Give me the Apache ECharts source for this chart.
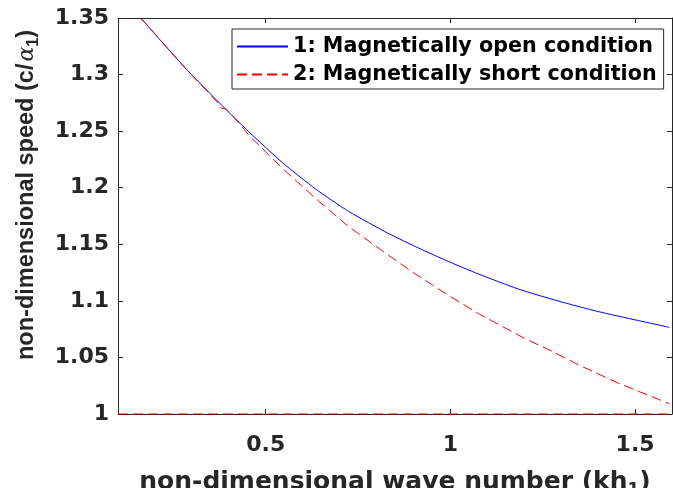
<!DOCTYPE html>
<html>
<head>
<meta charset="utf-8">
<script src="https://cdn.jsdelivr.net/npm/echarts@6/dist/echarts.min.js"></script>
<style>
  html, body { margin: 0; padding: 0; background: #fff; }
  #chart { width: 673px; height: 488px; }
</style>
</head>
<body>
<div id="chart"></div>
<script>
// Dispersion of the non-dimensional phase speed against wave number
const seriesNames = ['1: Magnetically open condition', '2: Magnetically short condition'];

const openX = [0.1616, 0.2795, 0.3775, 0.4549, 0.5448, 0.6349, 0.7248, 0.8327, 0.9137, 0.9946, 1.0756, 1.1835, 1.2914, 1.3994, 1.5073, 1.5928];
const openY = [1.3500, 1.3067, 1.2740, 1.2492, 1.2223, 1.1989, 1.1790, 1.1595, 1.1467, 1.1348, 1.1238, 1.1105, 1.0999, 1.0906, 1.0827, 1.0766];

const shortX = [0.1616, 0.2795, 0.3732, 0.3775, 0.3910, 0.4045, 0.4549, 0.5448, 0.6349, 0.7248, 0.8238, 0.8956, 0.9857, 1.0756, 1.2016, 1.2733, 1.3454, 1.4533, 1.5928];
const shortY = [1.3500, 1.3067, 1.2740, 1.2705, 1.2698, 1.2660, 1.2461, 1.2172, 1.1906, 1.1655, 1.1423, 1.1258, 1.1067, 1.0888, 1.0667, 1.0557, 1.0437, 1.0274, 1.0091];

// lower branch of the short-circuit curve, lying on c/alpha_1 = 1
const floorX = [0.1, 1.6];
const floorY = [1, 1];

const xTicks = [0.5, 1, 1.5];

const pairs = (xs, ys) => xs.map((x, i) => [x, ys[i]]);

const ink = '#262626';
const tickFont = { fontFamily: 'DejaVu Sans', fontWeight: 'bold', fontSize: 22, color: ink };

const chart = echarts.init(document.getElementById('chart'), null, { renderer: 'canvas' });

chart.setOption({
  animation: false,
  backgroundColor: '#fff',
  grid: { left: 118, right: 1, top: 18, bottom: 74, containLabel: false, outerBoundsMode: 'none' },
  xAxis: [
    {
      type: 'value', min: 0.1, max: 1.6, position: 'bottom',
      axisLine: { lineStyle: { color: ink, width: 1 } },
      axisTick: { inside: true, length: 5, customValues: xTicks, lineStyle: { color: ink } },
      axisLabel: { customValues: xTicks, margin: 20, ...tickFont, formatter: v => String(v) },
      splitLine: { show: false },
      name: 'non-dimensional wave number (kh{s|1})',
      nameLocation: 'middle',
      nameGap: 51,
      nameTextStyle: {
        fontFamily: 'DejaVu Sans', fontWeight: 'bold', fontSize: 25, color: ink, lineHeight: 34,
        rich: {
          s: { fontFamily: 'DejaVu Sans', fontWeight: 'bold', fontSize: 17, color: ink, lineHeight: 12, verticalAlign: 'bottom' }
        }
      }
    },
    {
      type: 'value', min: 0.1, max: 1.6, position: 'top',
      axisLine: { lineStyle: { color: ink, width: 1 } },
      axisTick: { inside: true, length: 5, customValues: xTicks, lineStyle: { color: ink } },
      axisLabel: { show: false },
      splitLine: { show: false }
    }
  ],
  yAxis: [
    {
      type: 'value', min: 1, max: 1.35, interval: 0.05, position: 'left',
      axisLine: { show: true, lineStyle: { color: ink, width: 1 } },
      axisTick: { show: true, inside: true, length: 5, lineStyle: { color: ink } },
      axisLabel: { margin: 9, ...tickFont, formatter: v => String(+v.toFixed(2)) },
      splitLine: { show: false }
    },
    {
      type: 'value', min: 1, max: 1.35, interval: 0.05, position: 'right',
      axisLine: { show: true, lineStyle: { color: ink, width: 1 } },
      axisTick: { show: true, inside: true, length: 5, lineStyle: { color: ink } },
      axisLabel: { show: false },
      splitLine: { show: false }
    }
  ],
  legend: {
    orient: 'vertical',
    left: 232, top: 29,
    padding: [7, 7, 4, 4],
    itemGap: 7,
    itemWidth: 51, itemHeight: 14,
    itemStyle: { opacity: 0 },
    borderColor: ink, borderWidth: 1,
    backgroundColor: '#fff',
    data: seriesNames,
    textStyle: { fontFamily: 'DejaVu Sans', fontWeight: 'bold', fontSize: 20.7, color: '#000', lineHeight: 20 }
  },
  graphic: [
    {
      type: 'text',
      x: 27, y: 195,
      rotation: Math.PI / 2,
      style: {
        text: '{t|non-dimensional speed (c/}{a|α}{s|1}{t|)}',
        align: 'center', verticalAlign: 'middle',
        rich: {
          t: { fontFamily: 'Liberation Sans', fontWeight: 'bold', fontSize: 23.5, fill: ink, lineHeight: 30 },
          a: { fontFamily: 'DejaVu Serif', fontStyle: 'italic', fontSize: 22, fill: ink, lineHeight: 30, padding: [0, 0, 0, 2] },
          s: { fontFamily: 'Liberation Sans', fontWeight: 'bold', fontSize: 16, fill: ink, lineHeight: 12, verticalAlign: 'bottom' }
        }
      }
    }
  ],
  series: [
    {
      name: seriesNames[0], type: 'line', symbol: 'none', smooth: 0.2,
      data: pairs(openX, openY),
      lineStyle: { color: '#0000ff', width: 1 },
      itemStyle: { color: '#0000ff' },
      z: 3
    },
    {
      name: seriesNames[1], type: 'line', symbol: 'none',
      data: pairs(shortX, shortY),
      lineStyle: { color: '#ff0000', width: 1, type: [10, 5] },
      itemStyle: { color: '#ff0000' },
      z: 4
    },
    {
      name: seriesNames[1], type: 'line', symbol: 'none',
      data: pairs(floorX, floorY),
      lineStyle: { color: '#ff0000', width: 1.2, type: [10, 5] },
      itemStyle: { color: '#ff0000' },
      z: 4
    }
  ]
});
</script>
</body>
</html>
